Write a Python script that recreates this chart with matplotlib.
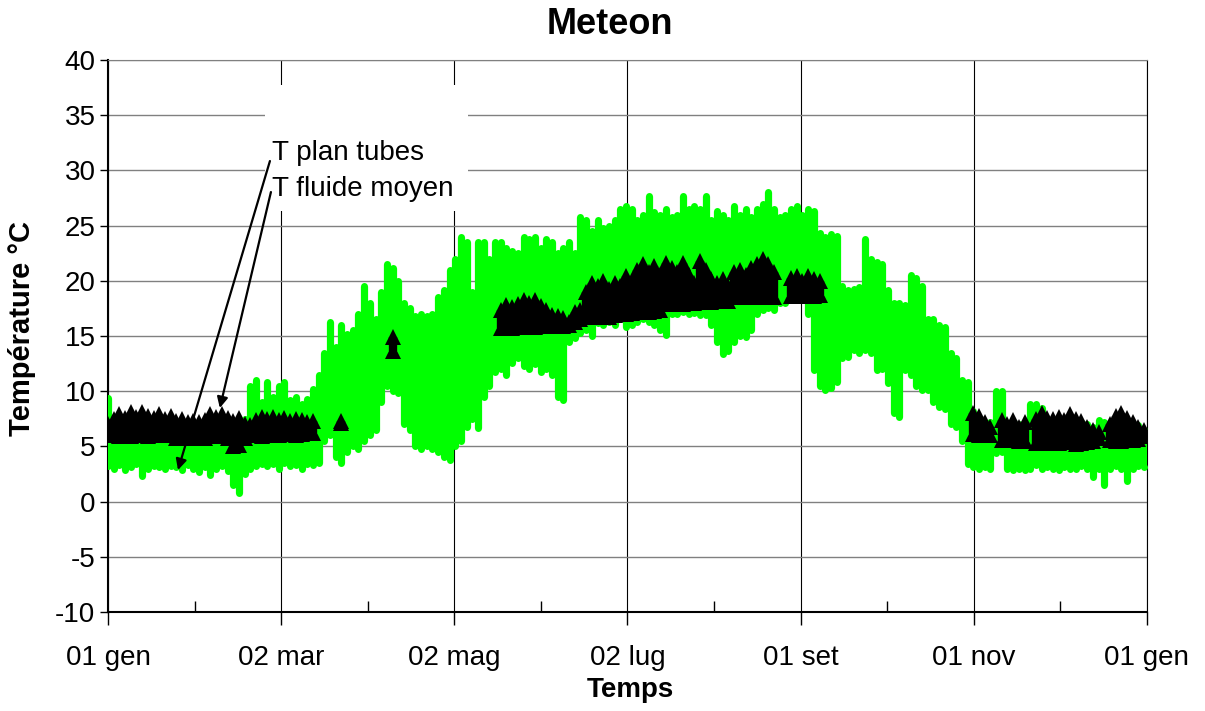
import numpy as np
import matplotlib
matplotlib.use('Agg')
from matplotlib import pyplot as plt
from matplotlib.patches import Rectangle

plt.rcParams['font.family'] = ['Liberation Sans', 'DejaVu Sans']
plt.rcParams['axes.unicode_minus'] = False

# one value every 2 days
days = np.arange(0, 365, 2)

plan_hi = [
    9.4, 7.0, 6.5, 7.0, 6.5, 6.8, 6.5, 7.0, 6.5, 6.8,
    6.6, 7.0, 6.5, 6.8, 6.6, 6.9, 6.5, 7.0, 6.8, 6.6,
    7.2, 6.8, 6.0, 6.5, 7.5, 10.5, 11.0, 9.0, 10.8, 9.5,
    10.5, 10.8, 9.2, 9.5, 8.8, 9.3, 10.2, 11.5, 13.5, 16.3,
    14.0, 16.0, 15.2, 15.5, 17.0, 19.5, 18.0, 16.5, 19.0, 21.5,
    21.2, 20.0, 18.0, 17.5, 16.8, 17.0, 16.8, 17.0, 18.5, 19.2,
    21.0, 22.0, 24.0, 23.5, 19.0, 23.5, 23.5, 22.0, 23.5, 23.5,
    23.0, 22.7, 22.5, 24.0, 23.8, 24.0, 23.0, 23.8, 23.5, 22.5,
    23.0, 23.5, 22.5, 25.8, 25.5, 24.5, 25.5, 24.8, 25.0, 25.5,
    26.5, 26.8, 26.5, 25.5, 26.0, 27.7, 26.2, 26.0, 26.5, 25.8,
    26.0, 27.7, 26.5, 26.8, 26.5, 27.7, 25.5, 26.3, 26.0, 25.5,
    26.8, 26.0, 26.5, 25.8, 26.5, 27.0, 28.0, 26.5, 25.8, 26.0,
    26.5, 26.8, 26.0, 26.5, 26.3, 24.3, 24.0, 24.2, 24.1, 19.5,
    19.2, 19.3, 19.4, 23.8, 22.0, 21.7, 21.5, 19.2, 18.0, 18.0,
    17.8, 20.5, 20.3, 19.5, 16.5, 16.5, 16.0, 15.8, 13.5, 13.0,
    11.0, 10.8, 8.2, 7.5, 7.0, 7.2, 10.0, 10.0, 7.0, 6.5,
    7.0, 7.0, 8.8, 8.8, 8.5, 7.0, 7.2, 7.0, 7.0, 6.8,
    7.0, 7.2, 7.0, 6.8, 7.4, 7.2, 6.5, 6.8, 7.0, 6.8,
    7.0, 6.9, 6.5]

plan_lo = [
    3.2, 3.0, 3.3, 2.9, 3.1, 3.4, 2.3, 3.0, 3.2, 3.1,
    3.0, 3.2, 3.1, 2.9, 3.3, 3.0, 2.7, 3.1, 2.4, 3.0,
    3.2, 2.8, 1.5, 0.8, 2.5, 3.0, 3.2, 3.4, 3.2, 3.4,
    3.0, 3.5, 3.2, 3.3, 3.0, 3.4, 3.3, 3.5, 5.5, 6.0,
    4.0, 3.5, 4.5, 5.0, 4.8, 5.5, 6.0, 6.5, 9.0, 10.5,
    10.0, 9.8, 7.0, 6.5, 5.0, 4.8, 5.0, 4.8, 4.5, 4.0,
    3.8, 5.0, 5.5, 6.8, 7.5, 6.7, 9.5, 10.5, 11.7, 12.0,
    11.5, 12.6, 13.0, 12.3, 12.0, 12.5, 11.7, 12.0, 11.5, 9.5,
    9.2, 14.5, 14.8, 15.3, 15.5, 15.0, 16.2, 16.0, 16.3, 16.0,
    16.5, 15.8, 16.0, 16.3, 16.5, 16.3, 16.0, 15.5, 15.1, 17.0,
    17.0, 17.2, 17.0, 17.1, 16.9, 16.9, 16.0, 14.5, 13.4, 13.6,
    14.5, 15.0, 14.9, 15.5, 17.0, 17.4, 17.5, 17.4, 18.0, 18.0,
    18.3, 18.3, 18.3, 17.0, 11.9, 10.5, 10.1, 10.3, 10.8, 13.0,
    13.1, 13.7, 13.5, 13.7, 13.5, 11.9, 12.0, 10.7, 8.0, 7.7,
    11.9, 11.5, 10.5, 10.1, 10.1, 9.0, 8.6, 8.4, 7.0, 6.8,
    5.5, 3.4, 3.1, 3.0, 3.1, 3.0, 4.4, 4.5, 3.0, 2.9,
    3.0, 2.9, 3.0, 3.3, 3.0, 3.1, 3.0, 2.9, 3.1, 3.0,
    3.0, 3.2, 3.0, 2.2, 3.0, 1.5, 3.0, 3.2, 3.0, 1.9,
    3.0, 3.2, 3.1]

nan = np.nan
fluide_hi = [
    7.0, 7.5, 7.9, 7.6, 8.1, 7.7, 8.1, 7.8, 7.6, 7.9,
    7.5, 7.8, 7.3, 7.5, 7.2, 7.3, 7.2, 7.4, 7.9, 7.7,
    7.9, 7.6, 7.3, 7.6, 7.0, 6.9, 7.4, 7.7, 7.5, 7.7,
    7.4, 7.6, 7.3, 7.5, 7.4, 7.2, 7.3, nan, nan, nan,
    nan, 7.3, nan, nan, nan, nan, nan, nan, nan, nan,
    14.9, nan, nan, nan, nan, nan, nan, nan, nan, nan,
    nan, nan, nan, nan, nan, nan, nan, nan, nan, 17.4,
    17.8, 17.6, 17.9, 18.3, 18.0, 18.3, 17.7, 17.4, 16.9, 16.8,
    16.6, 16.3, 17.2, 17.4, 19.0, 19.8, 19.5, 20.0, 19.3, 19.8,
    19.5, 20.4, 19.8, 21.0, 21.5, 20.8, 21.3, 20.5, 21.6, 21.2,
    20.8, 21.6, 20.5, 19.8, 21.8, 21.0, 20.2, 19.8, 20.2, 19.5,
    20.8, 21.0, 20.5, 21.2, 21.5, 22.0, 21.5, 20.8, nan, nan,
    20.3, 20.4, 20.0, 20.4, 20.2, 20.0, nan, nan, nan, nan,
    nan, nan, nan, nan, nan, nan, nan, nan, nan, nan,
    nan, nan, nan, nan, nan, nan, nan, nan, nan, nan,
    nan, nan, 8.0, 7.8, 7.2, 6.8, nan, 7.4, 7.0, 7.4,
    6.8, 7.2, nan, 7.5, 8.0, 7.6, 7.5, 7.7, 7.4, 7.9,
    7.5, 7.3, 6.8, 6.5, 6.3, nan, 7.0, 7.8, 8.0, 7.6,
    7.2, 6.8, 6.5]

fluide_lo = [
    6.1, 6.0, 5.9, 6.0, 5.9, 6.0, 6.0, 5.9, 6.0, 6.1,
    6.0, 6.0, 5.8, 5.8, 5.9, 5.8, 5.9, 5.8, 5.9, 6.0,
    5.9, 5.8, 5.0, 5.1, 5.8, 6.0, 6.0, 5.9, 6.1, 6.0,
    6.0, 6.1, 6.1, 6.0, 6.1, 6.2, 6.2, nan, nan, nan,
    nan, 7.1, nan, nan, nan, nan, nan, nan, nan, nan,
    13.6, nan, nan, nan, nan, nan, nan, nan, nan, nan,
    nan, nan, nan, nan, nan, nan, nan, nan, nan, 15.7,
    15.7, 15.7, 15.8, 15.8, 15.9, 15.8, 15.9, 15.9, 15.9, 15.9,
    15.9, 16.0, 16.3, 16.5, 16.7, 16.7, 16.8, 16.7, 16.7, 16.9,
    17.0, 17.0, 17.1, 17.2, 17.2, 17.2, 17.3, 17.4, 17.9, 17.9,
    17.9, 17.9, 18.0, 18.0, 18.1, 18.1, 18.1, 18.2, 18.2, 18.2,
    18.5, 18.5, 18.5, 18.5, 18.5, 18.5, 18.5, 18.5, nan, nan,
    18.6, 18.6, 18.6, 18.6, 18.6, 18.7, nan, nan, nan, nan,
    nan, nan, nan, nan, nan, nan, nan, nan, nan, nan,
    nan, nan, nan, nan, nan, nan, nan, nan, nan, nan,
    nan, nan, 6.1, 6.0, 6.0, 6.0, nan, 5.6, 5.6, 5.6,
    5.5, 5.5, nan, 5.3, 5.3, 5.3, 5.4, 5.3, 5.5, 5.4,
    5.2, 5.3, 5.4, 5.5, 5.8, nan, 5.6, 5.5, 5.5, 5.6,
    5.6, 5.7, 5.9]

tick_labels = ['01 gen', '02 mar', '02 mag', '02 lug', '01 set', '01 nov', '01 gen']
tick_pos = np.linspace(0, 365, 7)

fluide_hi = np.array(fluide_hi)
fluide_lo = np.array(fluide_lo)
has_f = ~np.isnan(fluide_hi)

fig = plt.figure(figsize=(12.05, 7.11), dpi=100)
ax = fig.add_axes([0.0896, 0.1392, 0.8622, 0.7764])

green = '#00ff00'
ax.vlines(days, plan_lo, plan_hi, color=green, lw=5.2, zorder=3)
ax.plot(days, plan_hi, 'o', color=green, ms=5, mew=0, zorder=3)
ax.plot(days, plan_lo, 'o', color=green, ms=5, mew=0, zorder=3)

ax.vlines(days[has_f], fluide_lo[has_f], fluide_hi[has_f], color='black', lw=6, zorder=4)
ax.plot(days, fluide_hi, '^', color='black', ms=12, mew=0, zorder=4)
ax.plot(days, fluide_lo, '^', color='black', ms=12, mew=0, zorder=4)

ax.set_xlim(0, 365)
ax.set_ylim(-10, 40)
ax.set_yticks(np.arange(-10, 41, 5))
ax.set_xticks(tick_pos)
ax.set_xticklabels(tick_labels)
ax.set_xticks((tick_pos[:-1] + tick_pos[1:]) / 2, minor=True)

ax.set_axisbelow(True)
ax.grid(axis='y', color='#808080', lw=1.0)
ax.grid(axis='x', which='major', color='black', lw=0.8)

ax.tick_params(axis='x', which='major', direction='out', length=9, width=1, labelsize=20, pad=15)
ax.tick_params(axis='x', which='minor', direction='in', length=8, width=1)
ax.tick_params(axis='y', direction='out', length=6, width=1, labelsize=20, pad=3)

for side in ['left', 'bottom']:
    ax.spines[side].set_linewidth(1.5)
ax.spines['top'].set_color('#808080')
ax.spines['right'].set_linewidth(0.8)

# white label box
ax.add_patch(Rectangle((55.2, 26.3), 71.2, 11.4, fc='white', ec='none', zorder=2))
ax.text(57.6, 30.94, 'T plan tubes', fontsize=20, va='baseline', zorder=5)
ax.text(57.6, 27.68, 'T fluide moyen', fontsize=20, va='baseline', zorder=5)
arrow = dict(arrowstyle='-|>', color='black', lw=1.6, mutation_scale=16, shrinkA=0, shrinkB=0)
ax.annotate('', xy=(24.6, 2.86), xytext=(56.9, 30.85), arrowprops=arrow, zorder=6)
ax.annotate('', xy=(39.3, 8.48), xytext=(57.25, 28.04), arrowprops=arrow, zorder=6)

fig.text(610 / 1205, 1 - 25 / 711, 'Meteon', fontsize=26, fontweight='bold', ha='center', va='center')
fig.text(630 / 1205, 1 - 690 / 711, 'Temps', fontsize=20, fontweight='bold', ha='center', va='center')
fig.text(22 / 1205, 1 - 328 / 711, 'Température °C', fontsize=21, fontweight='bold',
         rotation=90, ha='center', va='center')

fig.savefig('out.png', dpi=100)
